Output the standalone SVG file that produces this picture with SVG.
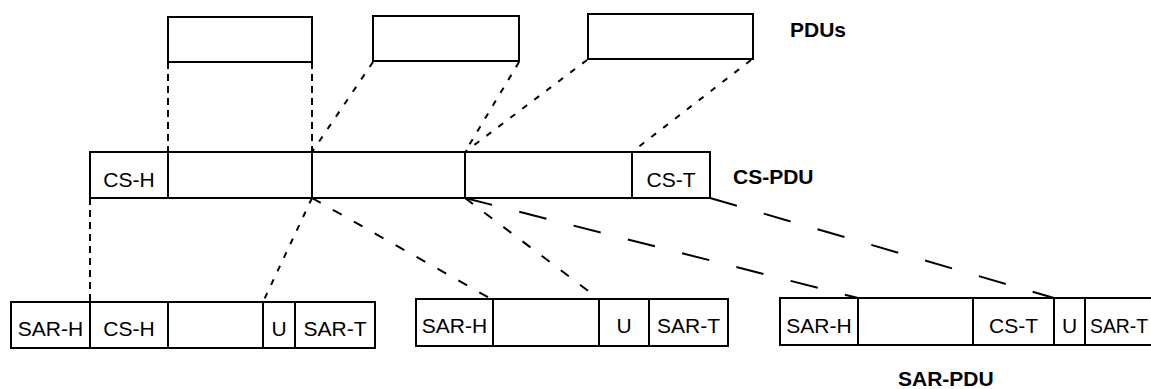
<svg xmlns="http://www.w3.org/2000/svg" width="1151" height="389" viewBox="0 0 1151 389">
<style>
.box{fill:none;stroke:#000;stroke-width:2}
.t{font-family:"Liberation Sans",Arial,sans-serif;font-size:21px;fill:#000;text-anchor:middle}
.b{font-family:"Liberation Sans",Arial,sans-serif;font-size:21px;font-weight:bold;fill:#000}
.v{stroke:#000;stroke-width:2;fill:none;stroke-dasharray:7 5}
.d{stroke:#000;stroke-width:2;fill:none;stroke-dasharray:6 9}
.m{stroke:#000;stroke-width:2;fill:none;stroke-dasharray:10 14}
.l{stroke:#000;stroke-width:2;fill:none;stroke-dasharray:28 28}
</style>
<rect width="1151" height="389" fill="#fff"/>
<g id="connectors">
<line class="v" x1="168" y1="62" x2="168" y2="152"/>
<line class="v" x1="312" y1="62" x2="312" y2="152"/>
<line class="d" x1="373" y1="62" x2="312" y2="152"/>
<line class="d" x1="519" y1="62" x2="465" y2="152"/>
<line class="d" x1="587" y1="60" x2="465" y2="152"/>
<line class="d" x1="751" y1="60" x2="632" y2="152"/>
<line class="v" x1="90" y1="198" x2="90" y2="302"/>
<line class="d" x1="312" y1="198" x2="263" y2="302"/>
<line class="m" x1="312" y1="198" x2="493" y2="300"/>
<line class="m" x1="465" y1="198" x2="599" y2="299"/>
<line class="l" x1="465" y1="198" x2="858" y2="298"/>
<line class="l" x1="710" y1="198" x2="1054" y2="298"/>
</g>
<g id="pdu1"><rect class="box" x="168" y="17" width="144" height="45"/></g>
<g id="pdu2"><rect class="box" x="373" y="16" width="146" height="45"/></g>
<g id="pdu3"><rect class="box" x="588" y="14" width="165" height="45"/></g>
<g id="label-pdus"><text class="b" x="790" y="37">PDUs</text></g>
<g id="cs-pdu">
<rect class="box" x="90" y="152" width="620" height="46"/>
<line class="box" x1="168" y1="152" x2="168" y2="198"/>
<line class="box" x1="312" y1="152" x2="312" y2="198"/>
<line class="box" x1="465" y1="152" x2="465" y2="198"/>
<line class="box" x1="632" y1="152" x2="632" y2="198"/>
<text class="t" x="129" y="187">CS-H</text>
<text class="t" x="671" y="187">CS-T</text>
</g>
<g id="label-cs-pdu"><text class="b" x="733" y="184">CS-PDU</text></g>
<g id="sar1">
<rect class="box" x="11" y="302" width="364" height="46"/>
<line class="box" x1="90" y1="302" x2="90" y2="348"/>
<line class="box" x1="168" y1="302" x2="168" y2="348"/>
<line class="box" x1="263" y1="302" x2="263" y2="348"/>
<line class="box" x1="295" y1="302" x2="295" y2="348"/>
<text class="t" x="50.5" y="336">SAR-H</text>
<text class="t" x="129" y="336">CS-H</text>
<text class="t" x="279" y="336">U</text>
<text class="t" x="335" y="336">SAR-T</text>
</g>
<g id="sar2">
<rect class="box" x="416" y="299" width="312" height="47"/>
<line class="box" x1="493" y1="299" x2="493" y2="346"/>
<line class="box" x1="599" y1="299" x2="599" y2="346"/>
<line class="box" x1="649" y1="299" x2="649" y2="346"/>
<text class="t" x="454.5" y="333">SAR-H</text>
<text class="t" x="624" y="333">U</text>
<text class="t" x="688.5" y="333">SAR-T</text>
</g>
<g id="sar3">
<rect class="box" x="780" y="298" width="390" height="47"/>
<line class="box" x1="858" y1="298" x2="858" y2="345"/>
<line class="box" x1="973" y1="298" x2="973" y2="345"/>
<line class="box" x1="1054" y1="298" x2="1054" y2="345"/>
<line class="box" x1="1085" y1="298" x2="1085" y2="345"/>
<text class="t" x="819" y="333">SAR-H</text>
<text class="t" x="1013.5" y="333">CS-T</text>
<text class="t" x="1069.5" y="333">U</text>
<text class="t" x="1090" y="333" style="text-anchor:start" textLength="58" lengthAdjust="spacingAndGlyphs">SAR-T</text>
</g>
<g id="label-sar-pdu"><text class="b" x="898" y="386">SAR-PDU</text></g>
</svg>
